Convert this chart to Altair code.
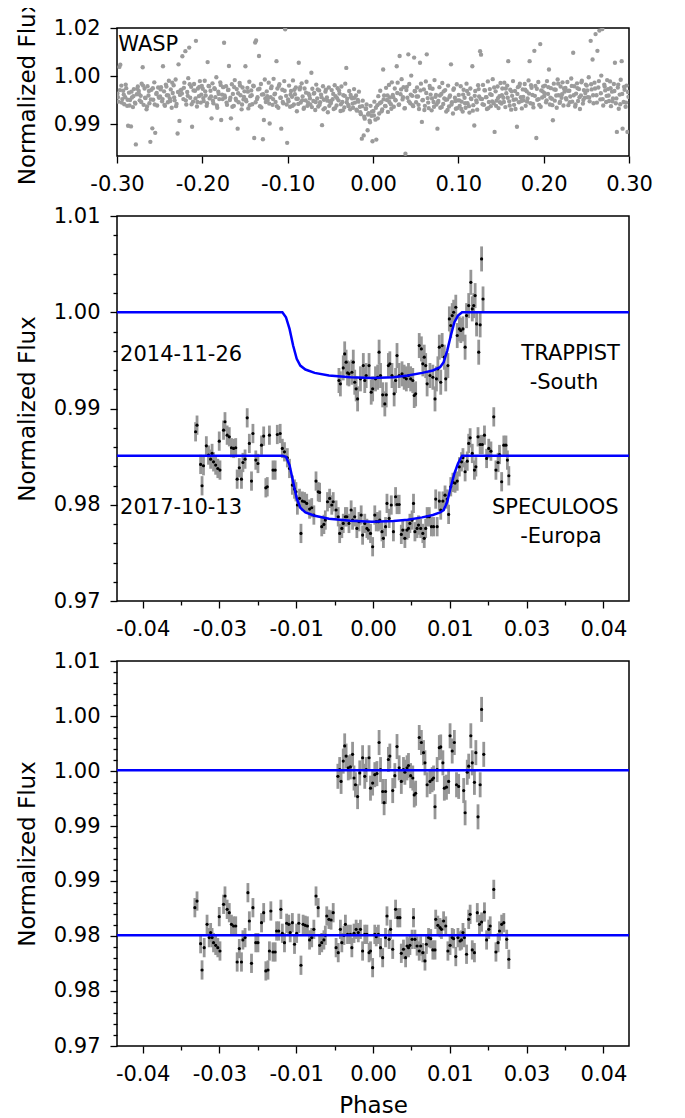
import altair as alt
import pandas as pd

# ---------------- WASP (top panel) ----------------
wasp_phase = [
    -0.2995, -0.2984, -0.2972, -0.2961, -0.2949, -0.2938, -0.2927, -0.2915, -0.2904, -0.2892, -0.2881, -0.2870, -0.2859, -0.2847, -0.2836, -0.2825, -0.2813, -0.2802, -0.2790, -0.2779, -0.2768, -0.2756,
    -0.2745, -0.2734, -0.2722, -0.2711, -0.2699, -0.2688, -0.2677, -0.2665, -0.2654, -0.2642, -0.2631, -0.2620, -0.2609, -0.2597, -0.2586, -0.2575, -0.2563, -0.2552, -0.2540, -0.2529, -0.2518, -0.2506,
    -0.2495, -0.2484, -0.2472, -0.2461, -0.2449, -0.2438, -0.2427, -0.2415, -0.2404, -0.2392, -0.2381, -0.2370, -0.2359, -0.2347, -0.2336, -0.2325, -0.2313, -0.2302, -0.2290, -0.2279, -0.2268, -0.2256,
    -0.2245, -0.2234, -0.2222, -0.2211, -0.2199, -0.2188, -0.2177, -0.2165, -0.2154, -0.2142, -0.2131, -0.2120, -0.2109, -0.2097, -0.2086, -0.2075, -0.2063, -0.2052, -0.2040, -0.2029, -0.2018, -0.2006,
    -0.1995, -0.1984, -0.1972, -0.1961, -0.1949, -0.1938, -0.1927, -0.1915, -0.1904, -0.1892, -0.1881, -0.1870, -0.1859, -0.1847, -0.1836, -0.1825, -0.1813, -0.1802, -0.1790, -0.1779, -0.1768, -0.1756,
    -0.1745, -0.1734, -0.1722, -0.1711, -0.1699, -0.1688, -0.1677, -0.1665, -0.1654, -0.1642, -0.1631, -0.1620, -0.1609, -0.1597, -0.1586, -0.1575, -0.1563, -0.1552, -0.1540, -0.1529, -0.1518, -0.1506,
    -0.1495, -0.1484, -0.1472, -0.1461, -0.1449, -0.1438, -0.1427, -0.1415, -0.1404, -0.1392, -0.1381, -0.1370, -0.1359, -0.1347, -0.1336, -0.1325, -0.1313, -0.1302, -0.1290, -0.1279, -0.1268, -0.1256,
    -0.1245, -0.1234, -0.1222, -0.1211, -0.1199, -0.1188, -0.1177, -0.1165, -0.1154, -0.1142, -0.1131, -0.1120, -0.1109, -0.1097, -0.1086, -0.1075, -0.1063, -0.1052, -0.1040, -0.1029, -0.1018, -0.1006,
    -0.0995, -0.0984, -0.0972, -0.0961, -0.0949, -0.0938, -0.0927, -0.0915, -0.0904, -0.0892, -0.0881, -0.0870, -0.0859, -0.0847, -0.0836, -0.0825, -0.0813, -0.0802, -0.0790, -0.0779, -0.0768, -0.0756,
    -0.0745, -0.0734, -0.0722, -0.0711, -0.0699, -0.0688, -0.0677, -0.0665, -0.0654, -0.0642, -0.0631, -0.0620, -0.0609, -0.0597, -0.0586, -0.0575, -0.0563, -0.0552, -0.0540, -0.0529, -0.0518, -0.0506,
    -0.0495, -0.0484, -0.0472, -0.0461, -0.0449, -0.0438, -0.0427, -0.0415, -0.0404, -0.0392, -0.0381, -0.0370, -0.0359, -0.0347, -0.0336, -0.0325, -0.0313, -0.0302, -0.0290, -0.0279, -0.0268, -0.0256,
    -0.0245, -0.0234, -0.0222, -0.0211, -0.0199, -0.0188, -0.0177, -0.0165, -0.0154, -0.0142, -0.0131, -0.0120, -0.0109, -0.0097, -0.0086, -0.0075, -0.0063, -0.0052, -0.0040, -0.0029, -0.0018, -0.0006,
    0.0005, 0.0016, 0.0028, 0.0039, 0.0051, 0.0062, 0.0073, 0.0085, 0.0096, 0.0108, 0.0119, 0.0130, 0.0141, 0.0153, 0.0164, 0.0175, 0.0187, 0.0198, 0.0210, 0.0221, 0.0232, 0.0244,
    0.0255, 0.0266, 0.0278, 0.0289, 0.0301, 0.0312, 0.0323, 0.0335, 0.0346, 0.0358, 0.0369, 0.0380, 0.0391, 0.0403, 0.0414, 0.0425, 0.0437, 0.0448, 0.0460, 0.0471, 0.0482, 0.0494,
    0.0505, 0.0516, 0.0528, 0.0539, 0.0551, 0.0562, 0.0573, 0.0585, 0.0596, 0.0608, 0.0619, 0.0630, 0.0641, 0.0653, 0.0664, 0.0675, 0.0687, 0.0698, 0.0710, 0.0721, 0.0732, 0.0744,
    0.0755, 0.0766, 0.0778, 0.0789, 0.0801, 0.0812, 0.0823, 0.0835, 0.0846, 0.0858, 0.0869, 0.0880, 0.0891, 0.0903, 0.0914, 0.0925, 0.0937, 0.0948, 0.0960, 0.0971, 0.0982, 0.0994,
    0.1005, 0.1016, 0.1028, 0.1039, 0.1051, 0.1062, 0.1073, 0.1085, 0.1096, 0.1108, 0.1119, 0.1130, 0.1141, 0.1153, 0.1164, 0.1175, 0.1187, 0.1198, 0.1210, 0.1221, 0.1232, 0.1244,
    0.1255, 0.1266, 0.1278, 0.1289, 0.1301, 0.1312, 0.1323, 0.1335, 0.1346, 0.1358, 0.1369, 0.1380, 0.1391, 0.1403, 0.1414, 0.1425, 0.1437, 0.1448, 0.1460, 0.1471, 0.1482, 0.1494,
    0.1505, 0.1516, 0.1528, 0.1539, 0.1551, 0.1562, 0.1573, 0.1585, 0.1596, 0.1608, 0.1619, 0.1630, 0.1641, 0.1653, 0.1664, 0.1675, 0.1687, 0.1698, 0.1710, 0.1721, 0.1732, 0.1744,
    0.1755, 0.1766, 0.1778, 0.1789, 0.1801, 0.1812, 0.1823, 0.1835, 0.1846, 0.1858, 0.1869, 0.1880, 0.1891, 0.1903, 0.1914, 0.1925, 0.1937, 0.1948, 0.1960, 0.1971, 0.1982, 0.1994,
    0.2005, 0.2016, 0.2028, 0.2039, 0.2051, 0.2062, 0.2073, 0.2085, 0.2096, 0.2108, 0.2119, 0.2130, 0.2141, 0.2153, 0.2164, 0.2175, 0.2187, 0.2198, 0.2210, 0.2221, 0.2232, 0.2244,
    0.2255, 0.2266, 0.2278, 0.2289, 0.2301, 0.2312, 0.2323, 0.2335, 0.2346, 0.2358, 0.2369, 0.2380, 0.2391, 0.2403, 0.2414, 0.2425, 0.2437, 0.2448, 0.2460, 0.2471, 0.2482, 0.2494,
    0.2505, 0.2516, 0.2528, 0.2539, 0.2551, 0.2562, 0.2573, 0.2585, 0.2596, 0.2608, 0.2619, 0.2630, 0.2641, 0.2653, 0.2664, 0.2675, 0.2687, 0.2698, 0.2710, 0.2721, 0.2732, 0.2744,
    0.2755, 0.2766, 0.2778, 0.2789, 0.2801, 0.2812, 0.2823, 0.2835, 0.2846, 0.2858, 0.2869, 0.2880, 0.2891, 0.2903, 0.2914, 0.2925, 0.2937, 0.2948, 0.2960, 0.2971, 0.2982, 0.2994,
]
wasp_flux = [
    0.9996, 0.9971, 1.0079, 1.0086, 1.0021, 0.9979, 1.0005, 0.9963, 0.9985, 1.0013, 0.9958, 0.9896, 0.9999, 0.9976, 0.9894, 0.9984, 0.9954, 1.0010, 0.9968, 0.9838, 0.9994, 1.0018,
    1.0004, 0.9975, 0.9989, 1.0027, 1.0078, 0.9961, 1.0012, 0.9982, 0.9947, 1.0019, 0.9990, 0.9966, 0.9846, 1.0008, 0.9888, 0.9977, 1.0031, 0.9874, 0.9995, 0.9959, 1.0015, 0.9983,
    0.9987, 1.0016, 0.9972, 1.0081, 1.0003, 0.9958, 1.0024, 0.9991, 0.9969, 1.0036, 0.9981, 1.0009, 0.9952, 0.9998, 1.0022, 0.9975, 1.0040, 0.9964, 0.9872, 1.0087, 0.9911, 1.0006,
    1.0008, 1.0112, 0.9979, 1.0030, 1.0128, 0.9962, 1.0001, 1.0044, 1.0139, 0.9983, 1.0017, 0.9893, 0.9971, 1.0026, 1.0005, 1.0160, 0.9956, 1.0012, 0.9988, 1.0035, 0.9968, 1.0020,
    1.0011, 0.9973, 1.0036, 0.9990, 0.9958, 1.0094, 1.0020, 0.9981, 1.0005, 0.9919, 1.0028, 0.9966, 1.0013, 0.9985, 1.0047, 0.9952, 1.0002, 0.9979, 1.0031, 0.9914, 0.9993, 1.0016,
    1.0154, 0.9984, 1.0019, 0.9961, 1.0007, 1.0082, 0.9976, 0.9919, 1.0025, 0.9995, 0.9958, 1.0038, 0.9980, 1.0010, 0.9887, 0.9969, 1.0029, 0.9991, 0.9947, 1.0015, 0.9978, 1.0003,
    1.0081, 0.9972, 1.0014, 0.9950, 1.0033, 0.9988, 1.0006, 0.9963, 1.0021, 0.9858, 1.0155, 1.0161, 0.9979, 1.0009, 1.0113, 0.9957, 1.0026, 0.9993, 0.9854, 0.9914, 1.0040, 0.9970,
    1.0003, 0.9976, 1.0030, 0.9903, 0.9985, 1.0018, 0.9961, 1.0042, 0.9994, 0.9970, 1.0097, 1.0012, 0.9952, 1.0025, 0.9983, 0.9887, 1.0008, 0.9966, 1.0035, 1.0196, 0.9989, 0.9843,
    0.9978, 1.0021, 0.9955, 1.0004, 0.9986, 1.0037, 0.9962, 0.9994, 1.0015, 0.9941, 0.9980, 1.0092, 1.0009, 0.9968, 1.0028, 0.9987, 0.9949, 1.0012, 0.9975, 1.0033, 0.9958, 0.9996,
    0.9990, 0.9962, 1.0061, 1.0011, 0.9973, 0.9998, 0.9945, 1.0024, 0.9981, 0.9956, 1.0006, 0.9969, 0.9993, 0.9898, 1.0019, 0.9977, 0.9951, 1.0008, 0.9984, 0.9938, 1.0015, 0.9972,
    0.9966, 1.0007, 0.9979, 0.9948, 1.0022, 0.9988, 0.9959, 1.0013, 0.9975, 0.9996, 0.9942, 1.0018, 0.9970, 0.9991, 0.9953, 1.0027, 1.0076, 0.9980, 0.9961, 1.0004, 0.9947, 0.9985,
    0.9981, 0.9952, 1.0010, 0.9968, 0.9990, 0.9943, 0.9976, 1.0002, 0.9955, 0.9932, 0.9856, 0.9974, 0.9866, 0.9918, 0.9949, 0.9962, 0.9882, 0.9935, 0.9912, 0.9958, 0.9927, 0.9848,
    0.9942, 0.9971, 0.9915, 0.9853, 0.9960, 0.9988, 0.9934, 1.0005, 0.9969, 0.9947, 1.0071, 0.9990, 0.9958, 1.0014, 0.9976, 0.9939, 1.0023, 0.9984, 0.9963, 1.0031, 0.9992, 0.9955,
    1.0012, 0.9975, 1.0081, 1.0030, 0.9961, 1.0113, 0.9994, 1.0041, 0.9978, 1.0016, 0.9950, 0.9809, 1.0007, 0.9983, 1.0118, 1.0026, 0.9966, 1.0052, 0.9989, 0.9957, 1.0108, 1.0003,
    0.9969, 1.0015, 0.9987, 0.9948, 1.0092, 1.0027, 0.9908, 0.9976, 1.0009, 0.9958, 1.0034, 1.0118, 0.9982, 0.9951, 1.0020, 0.9993, 0.9944, 1.0011, 0.9970, 1.0038, 0.9986, 0.9962,
    0.9887, 0.9973, 1.0016, 0.9952, 0.9995, 1.0029, 0.9964, 0.9981, 1.0007, 0.9940, 0.9978, 1.0021, 0.9956, 0.9990, 1.0087, 0.9969, 0.9934, 1.0012, 0.9983, 0.9949, 1.0025, 0.9975,
    0.9992, 0.9958, 1.0019, 0.9971, 0.9940, 1.0008, 0.9983, 0.9952, 1.0027, 0.9966, 0.9995, 0.9937, 1.0012, 0.9979, 1.0081, 0.9960, 0.9897, 1.0004, 0.9975, 0.9946, 1.0022, 0.9987,
    1.0128, 1.0117, 0.9979, 1.0023, 0.9961, 1.0006, 0.9985, 0.9948, 1.0034, 0.9970, 1.0010, 0.9957, 0.9992, 1.0041, 0.9966, 0.9877, 1.0003, 0.9974, 1.0018, 0.9951, 0.9988, 1.0029,
    0.9965, 1.0012, 0.9983, 1.0030, 0.9954, 0.9997, 1.0021, 1.0097, 0.9972, 1.0008, 0.9946, 0.9989, 1.0035, 0.9961, 1.0004, 0.9978, 0.9893, 1.0016, 0.9969, 1.0027, 0.9985, 0.9950,
    1.0009, 0.9975, 1.0026, 0.9958, 1.0003, 0.9981, 1.0037, 1.0097, 0.9966, 1.0014, 0.9992, 0.9953, 1.0129, 1.0020, 0.9858, 0.9977, 1.0032, 0.9961, 1.0150, 1.0006, 0.9984, 1.0018,
    0.9988, 1.0021, 0.9969, 1.0035, 0.9995, 1.0071, 0.9962, 1.0013, 0.9980, 0.9913, 1.0027, 0.9974, 1.0008, 0.9952, 1.0040, 0.9991, 0.9967, 1.0018, 0.9983, 1.0031, 0.9959, 1.0002,
    1.0014, 0.9978, 1.0032, 0.9960, 1.0005, 0.9987, 1.0043, 0.9971, 1.0123, 1.0019, 0.9956, 0.9996, 1.0028, 0.9973, 1.0010, 0.9948, 0.9990, 1.0036, 0.9965, 1.0007, 0.9983, 1.0024,
    1.0021, 0.9985, 1.0047, 0.9972, 1.0160, 1.0009, 1.0102, 0.9966, 1.0030, 1.0181, 0.9991, 1.0129, 1.0015, 1.0192, 0.9978, 1.0052, 1.0197, 0.9959, 1.0024, 1.0006, 0.9970, 1.0038,
    1.0010, 0.9973, 1.0034, 0.9957, 1.0002, 0.9981, 1.0026, 1.0092, 0.9966, 0.9877, 1.0015, 0.9949, 0.9993, 1.0039, 1.0097, 0.9887, 0.9970, 1.0008, 0.9955, 1.0021, 0.9877, 0.9986,
]
# second WASP season (interleaved phases, core of the band)
wasp2_phase = [
    -0.2989, -0.2966, -0.2944, -0.2921, -0.2898, -0.2876, -0.2853, -0.2830, -0.2808, -0.2785, -0.2762,
    -0.2739, -0.2716, -0.2694, -0.2671, -0.2648, -0.2626, -0.2603, -0.2580, -0.2558, -0.2535, -0.2512,
    -0.2489, -0.2466, -0.2444, -0.2421, -0.2398, -0.2376, -0.2353, -0.2330, -0.2308, -0.2285, -0.2262,
    -0.2239, -0.2216, -0.2194, -0.2171, -0.2148, -0.2126, -0.2103, -0.2080, -0.2058, -0.2035, -0.2012,
    -0.1989, -0.1966, -0.1944, -0.1921, -0.1898, -0.1876, -0.1853, -0.1830, -0.1808, -0.1785, -0.1762,
    -0.1739, -0.1716, -0.1694, -0.1671, -0.1648, -0.1626, -0.1603, -0.1580, -0.1558, -0.1535, -0.1512,
    -0.1489, -0.1466, -0.1444, -0.1421, -0.1398, -0.1376, -0.1353, -0.1330, -0.1308, -0.1285, -0.1262,
    -0.1239, -0.1216, -0.1194, -0.1171, -0.1148, -0.1126, -0.1103, -0.1080, -0.1058, -0.1035, -0.1012,
    -0.0989, -0.0966, -0.0944, -0.0921, -0.0898, -0.0876, -0.0853, -0.0830, -0.0808, -0.0785, -0.0762,
    -0.0739, -0.0716, -0.0694, -0.0671, -0.0648, -0.0626, -0.0603, -0.0580, -0.0558, -0.0535, -0.0512,
    -0.0489, -0.0466, -0.0444, -0.0421, -0.0398, -0.0376, -0.0353, -0.0330, -0.0308, -0.0285, -0.0262,
    -0.0239, -0.0216, -0.0194, -0.0171, -0.0148, -0.0126, -0.0103, -0.0080, -0.0058, -0.0035, -0.0012,
    0.0011, 0.0034, 0.0056, 0.0079, 0.0102, 0.0124, 0.0147, 0.0170, 0.0192, 0.0215, 0.0238,
    0.0261, 0.0284, 0.0306, 0.0329, 0.0352, 0.0374, 0.0397, 0.0420, 0.0442, 0.0465, 0.0488,
    0.0511, 0.0534, 0.0556, 0.0579, 0.0602, 0.0624, 0.0647, 0.0670, 0.0692, 0.0715, 0.0738,
    0.0761, 0.0784, 0.0806, 0.0829, 0.0852, 0.0874, 0.0897, 0.0920, 0.0942, 0.0965, 0.0988,
    0.1011, 0.1034, 0.1056, 0.1079, 0.1102, 0.1124, 0.1147, 0.1170, 0.1192, 0.1215, 0.1238,
    0.1261, 0.1284, 0.1306, 0.1329, 0.1352, 0.1374, 0.1397, 0.1420, 0.1442, 0.1465, 0.1488,
    0.1511, 0.1534, 0.1556, 0.1579, 0.1602, 0.1624, 0.1647, 0.1670, 0.1692, 0.1715, 0.1738,
    0.1761, 0.1784, 0.1806, 0.1829, 0.1852, 0.1874, 0.1897, 0.1920, 0.1942, 0.1965, 0.1988,
    0.2011, 0.2034, 0.2056, 0.2079, 0.2102, 0.2124, 0.2147, 0.2170, 0.2192, 0.2215, 0.2238,
    0.2261, 0.2284, 0.2306, 0.2329, 0.2352, 0.2374, 0.2397, 0.2420, 0.2442, 0.2465, 0.2488,
    0.2511, 0.2534, 0.2556, 0.2579, 0.2602, 0.2624, 0.2647, 0.2670, 0.2692, 0.2715, 0.2738,
    0.2761, 0.2784, 0.2806, 0.2829, 0.2852, 0.2874, 0.2897, 0.2920, 0.2942, 0.2965, 0.2988,
]
wasp2_flux = [
    0.9985, 1.0007, 0.9968, 0.9993, 1.0024, 0.9977, 0.9959, 1.0002, 0.9988, 0.9965, 1.0011,
    0.9994, 0.9970, 1.0021, 0.9983, 0.9956, 1.0004, 0.9978, 1.0013, 0.9962, 0.9998, 0.9986,
    1.0009, 0.9979, 0.9961, 1.0018, 0.9990, 0.9973, 1.0030, 0.9984, 0.9957, 1.0001, 0.9992,
    0.9996, 1.0014, 0.9975, 0.9989, 1.0025, 0.9963, 1.0006, 0.9981, 0.9970, 1.0017, 0.9993,
    0.9982, 1.0003, 0.9966, 1.0019, 0.9987, 0.9974, 1.0010, 0.9959, 0.9995, 1.0023, 0.9979,
    0.9990, 0.9968, 1.0008, 0.9983, 0.9955, 1.0016, 0.9975, 0.9997, 1.0021, 0.9962, 0.9986,
    0.9977, 1.0002, 0.9960, 0.9991, 1.0019, 0.9969, 0.9985, 1.0011, 0.9953, 0.9994, 0.9981,
    0.9988, 0.9965, 1.0013, 0.9979, 0.9996, 0.9957, 1.0020, 0.9983, 0.9970, 1.0005, 0.9962,
    0.9972, 0.9993, 0.9958, 1.0008, 0.9980, 0.9964, 1.0016, 0.9975, 0.9952, 0.9999, 0.9968,
    0.9981, 0.9954, 0.9996, 0.9970, 1.0009, 0.9961, 0.9985, 0.9947, 1.0002, 0.9974, 0.9958,
    0.9973, 0.9995, 0.9951, 0.9982, 1.0006, 0.9963, 0.9944, 0.9989, 0.9969, 0.9957, 0.9992,
    0.9965, 0.9983, 0.9946, 0.9971, 0.9938, 0.9957, 0.9924, 0.9949, 0.9931, 0.9907, 0.9940,
    0.9928, 0.9952, 0.9919, 0.9966, 0.9941, 0.9978, 0.9957, 0.9990, 0.9970, 0.9949, 0.9985,
    0.9976, 0.9998, 0.9962, 1.0009, 0.9985, 0.9951, 1.0017, 0.9972, 0.9993, 0.9960, 1.0004,
    0.9987, 0.9961, 1.0006, 0.9975, 0.9945, 0.9998, 0.9968, 1.0013, 0.9981, 0.9955, 0.9992,
    0.9969, 0.9990, 0.9954, 1.0003, 0.9977, 0.9945, 0.9986, 0.9962, 1.0008, 0.9973, 0.9951,
    0.9975, 0.9948, 0.9993, 0.9966, 1.0004, 0.9957, 0.9981, 0.9943, 0.9989, 0.9969, 1.0010,
    0.9980, 0.9963, 1.0007, 0.9985, 0.9951, 0.9994, 0.9972, 1.0015, 0.9958, 0.9982, 0.9969,
    0.9991, 0.9970, 1.0012, 0.9983, 0.9959, 1.0003, 0.9977, 0.9948, 0.9995, 1.0020, 0.9973,
    0.9986, 1.0008, 0.9971, 0.9996, 1.0022, 0.9964, 0.9989, 1.0011, 0.9979, 0.9955, 1.0003,
    0.9997, 0.9975, 1.0016, 0.9983, 0.9960, 1.0009, 0.9990, 1.0027, 0.9971, 0.9994, 1.0012,
    0.9982, 1.0005, 0.9969, 1.0020, 0.9991, 0.9962, 1.0013, 0.9985, 1.0031, 0.9976, 0.9998,
    1.0006, 0.9984, 1.0025, 0.9991, 1.0012, 0.9968, 1.0035, 0.9997, 0.9979, 1.0018, 0.9989,
    0.9990, 1.0013, 0.9972, 1.0004, 0.9981, 1.0024, 0.9963, 0.9995, 1.0017, 0.9968, 1.0001,
]

# ---------------- TRAPPIST-South 2014-11-26 ----------------
trappist_phase = [
    -0.00665, -0.00637, -0.00581, -0.00553, -0.00525, -0.00497, -0.00469, -0.00413, -0.00385, -0.00357,
    -0.00329, -0.00301, -0.00245, -0.00189, -0.00161, -0.00133, -0.00077, -0.00035, -0.00007, 0.00049,
    0.00091, 0.00119, 0.00147, 0.00189, 0.00231, 0.00259, 0.00301, 0.00329, 0.00371, 0.00413,
    0.00441, 0.00469, 0.00511, 0.00567, 0.00609, 0.00651, 0.00693, 0.00735, 0.00777, 0.00805,
    0.00833, 0.00903, 0.00945, 0.00973, 0.01001, 0.01029, 0.01057, 0.01113, 0.01169, 0.01211,
    0.01239, 0.01267, 0.01295, 0.01323, 0.01351, 0.01393, 0.01421, 0.01463, 0.01491, 0.01519,
    0.01547, 0.01575, 0.01617, 0.01645, 0.01687, 0.01715, 0.01757, 0.01799, 0.01827, 0.01869,
    0.01911, 0.01939, 0.01967, 0.01995, 0.02023, 0.02065, 0.02093, 0.02121, 0.02149,
]
trappist_flux = [
    0.99291, 0.99256, 0.99422, 0.99567, 0.99481, 0.9937, 0.9936, 0.99377, 0.99481, 0.99273,
    0.99204, 0.991, 0.99308, 0.99446, 0.99291, 0.99343, 0.99446, 0.9917, 0.99204, 0.99308,
    0.99325, 0.99585, 0.99343, 0.99142, 0.99048, 0.99142, 0.99446, 0.99464, 0.99343, 0.99152,
    0.99291, 0.9955, 0.99343, 0.9936, 0.99325, 0.99308, 0.99343, 0.99308, 0.99291, 0.99135,
    0.99152, 0.99654, 0.99619, 0.99464, 0.99533, 0.99446, 0.99256, 0.99343, 0.99325, 0.991,
    0.99308, 0.99412, 0.99637, 0.99273, 0.99654, 0.99533, 0.99308, 0.99446, 0.99931, 0.99862,
    0.99965, 1.0, 1.00052, 0.99758, 0.99827, 0.9981, 0.99827, 0.99637, 0.99965, 1.00069,
    1.00311, 1.00035, 1.00069, 1.00173, 0.99879, 0.99585, 0.99869, 1.00554, 1.00138,
]
trappist_err = 0.0013
trappist_res_phase = [
    -0.00686, -0.00651, -0.00623, -0.00581, -0.00553, -0.00525, -0.00483, -0.00441, -0.00399, -0.00371,
    -0.00343, -0.00301, -0.00259, -0.00203, -0.00161, -0.00133, -0.00077, -0.00049, -0.00007, 0.00035,
    0.00077, 0.00119, 0.00147, 0.00189, 0.00217, 0.00245, 0.00301, 0.00329, 0.00385, 0.00427,
    0.00469, 0.00511, 0.00553, 0.00595, 0.00623, 0.00665, 0.00693, 0.00735, 0.00777, 0.00805,
    0.00833, 0.00903, 0.00945, 0.00987, 0.01015, 0.01057, 0.01113, 0.01155, 0.01183, 0.01211,
    0.01253, 0.01295, 0.01323, 0.01365, 0.01393, 0.01435, 0.01477, 0.01505, 0.01547, 0.01589,
    0.01631, 0.01673, 0.01771, 0.01799, 0.01841, 0.01869, 0.01911, 0.01939, 0.01981, 0.02009,
    0.02051, 0.02093, 0.02121, 0.02163,
]
trappist_res_flux = [
    0.99802, 0.99872, 0.99749, 0.9996, 1.00118, 1.00012, 0.9989, 0.999, 1.0003, 0.99784,
    0.99714, 0.99591, 0.99837, 0.99995, 0.99802, 0.99872, 0.99995, 0.99679, 0.99732, 0.99819,
    0.9983, 1.00153, 0.99872, 0.99644, 0.99528, 0.99644, 0.99977, 1.00012, 0.99654, 0.99809,
    1.00111, 0.9989, 0.99749, 0.99872, 0.99844, 0.9989, 0.99914, 0.99809, 0.99784, 0.99609,
    0.99626, 1.00205, 1.00153, 1.00048, 0.99942, 0.99714, 0.99749, 0.99767, 0.99784, 0.99486,
    0.99872, 1.001, 1.00107, 0.99942, 0.99679, 0.99689, 0.99749, 1.00223, 1.00065, 1.00153,
    0.99714, 0.99697, 0.99654, 0.99423, 0.99844, 0.99907, 1.00223, 0.99942, 0.99739, 1.00048,
    0.99381, 0.99714, 1.00497, 1.0003,
]

# ---------------- SPECULOOS-Europa 2017-10-13 ----------------
speculoos_phase = [
    -0.03465, -0.03437, -0.03367, -0.03339, -0.03311, -0.03255, -0.03213, -0.03171, -0.03143, -0.03115,
    -0.03073, -0.03031, -0.03003, -0.02989, -0.02919, -0.02891, -0.02849, -0.02807, -0.02765, -0.02723,
    -0.02681, -0.02653, -0.02611, -0.02569, -0.02541, -0.02499, -0.02457, -0.02415, -0.02373, -0.02345,
    -0.02289, -0.02247, -0.02177, -0.02135, -0.02093, -0.02065, -0.02023, -0.01953, -0.01911, -0.01869,
    -0.01813, -0.01771, -0.01729, -0.01673, -0.01631, -0.01575, -0.01533, -0.01505, -0.01477, -0.01435,
    -0.01407, -0.01379, -0.01337, -0.01295, -0.01239, -0.01197, -0.01155, -0.01113, -0.01071, -0.01043,
    -0.01001, -0.00959, -0.00931, -0.00889, -0.00847, -0.00805, -0.00777, -0.00721, -0.00679, -0.00651,
    -0.00609, -0.00581, -0.00539, -0.00511, -0.00469, -0.00427, -0.00399, -0.00357, -0.00315, -0.00273,
    -0.00231, -0.00203, -0.00161, -0.00119, -0.00091, -0.00049, -0.00007, 0.00035, 0.00063, 0.00105,
    0.00133, 0.00175, 0.00203, 0.00245, 0.00273, 0.00315, 0.00357, 0.00399, 0.00441, 0.00469,
    0.00511, 0.00553, 0.00581, 0.00623, 0.00665, 0.00693, 0.00721, 0.00763, 0.00791, 0.00819,
    0.00861, 0.00889, 0.00931, 0.00973, 0.01001, 0.01029, 0.01057, 0.01099, 0.01141, 0.01183,
    0.01225, 0.01253, 0.01295, 0.01323, 0.01365, 0.01407, 0.01449, 0.01477, 0.01519, 0.01561,
    0.01603, 0.01645, 0.01687, 0.01729, 0.01757, 0.01799, 0.01841, 0.01869, 0.01897, 0.01939,
    0.01981, 0.02009, 0.02051, 0.02093, 0.02135, 0.02177, 0.02219, 0.02261, 0.02303, 0.02359,
    0.02401, 0.02443, 0.02471, 0.02513, 0.02555, 0.02597, 0.02625, 0.02653,
]
speculoos_flux = [
    0.98758, 0.98827, 0.98419, 0.98197, 0.98405, 0.98612, 0.98516, 0.98474, 0.98533, 0.98446,
    0.98412, 0.98377, 0.98661, 0.9836, 0.98775, 0.98862, 0.98723, 0.98706, 0.98592, 0.98585,
    0.98592, 0.98266, 0.98384, 0.98266, 0.98439, 0.98474, 0.98903, 0.98637, 0.98246, 0.9874,
    0.98464, 0.98429, 0.98619, 0.98713, 0.98176, 0.98187, 0.98723, 0.9836, 0.9836, 0.9873,
    0.9874, 0.98585, 0.9855, 0.98488, 0.98377, 0.98204, 0.98163, 0.98135, 0.97997, 0.98066,
    0.97702, 0.98038, 0.98031, 0.98014, 0.97955, 0.97969, 0.97893, 0.98246, 0.98135, 0.98128,
    0.97772, 0.97796, 0.97841, 0.98031, 0.98066, 0.97997, 0.98031, 0.97945, 0.97875, 0.97702,
    0.97754, 0.97806, 0.97875, 0.97875, 0.97806, 0.97945, 0.97841, 0.97875, 0.97754, 0.97824,
    0.97893, 0.97685, 0.97806, 0.97754, 0.97737, 0.97702, 0.97564, 0.97893, 0.97824, 0.97824,
    0.97841, 0.9772, 0.97651, 0.97772, 0.98014, 0.97858, 0.97997, 0.9772, 0.98083, 0.98003,
    0.98003, 0.97692, 0.97737, 0.97651, 0.97737, 0.97754, 0.97806, 0.97841, 0.98014, 0.9772,
    0.97754, 0.97789, 0.97754, 0.97702, 0.97651, 0.97754, 0.97875, 0.97875, 0.97772, 0.97772,
    0.98059, 0.97772, 0.98038, 0.97945, 0.98038, 0.981, 0.98059, 0.979, 0.98187, 0.98232,
    0.98225, 0.98246, 0.98394, 0.98446, 0.98488, 0.98343, 0.98453, 0.98637, 0.98695, 0.98533,
    0.9836, 0.98394, 0.98706, 0.98626, 0.98626, 0.98723, 0.98481, 0.98585, 0.98557, 0.98913,
    0.9836, 0.98439, 0.98522, 0.98239, 0.98619, 0.98619, 0.98464, 0.98301,
]
speculoos_err = 0.001
speculoos_res_phase = [
    -0.03479, -0.03437, -0.03367, -0.03339, -0.03297, -0.03241, -0.03199, -0.03171, -0.03143, -0.03115,
    -0.03073, -0.03031, -0.02989, -0.03003, -0.02919, -0.02891, -0.02849, -0.02807, -0.02765, -0.02723,
    -0.02681, -0.02653, -0.02611, -0.02569, -0.02541, -0.02499, -0.02443, -0.02415, -0.02373, -0.02345,
    -0.02289, -0.02247, -0.02177, -0.02135, -0.02093, -0.02051, -0.02023, -0.01995, -0.01953, -0.01911,
    -0.01883, -0.01841, -0.01799, -0.01771, -0.01729, -0.01687, -0.01645, -0.01617, -0.01575, -0.01533,
    -0.01491, -0.01449, -0.01407, -0.01365, -0.01323, -0.01281, -0.01239, -0.01197, -0.01155, -0.01113,
    -0.01071, -0.01043, -0.01001, -0.00959, -0.00931, -0.00903, -0.00861, -0.00819, -0.00777, -0.00721,
    -0.00679, -0.00637, -0.00609, -0.00567, -0.00539, -0.00497, -0.00441, -0.00413, -0.00371, -0.00329,
    -0.00287, -0.00245, -0.00203, -0.00161, -0.00119, -0.00077, -0.00049, -0.00007, 0.00035, 0.00063,
    0.00105, 0.00147, 0.00189, 0.00245, 0.00273, 0.00315, 0.00343, 0.00385, 0.00441, 0.00483,
    0.00525, 0.00553, 0.00595, 0.00637, 0.00665, 0.00693, 0.00721, 0.00763, 0.00791, 0.00819,
    0.00861, 0.00903, 0.00931, 0.00973, 0.01015, 0.01043, 0.01085, 0.01127, 0.01169, 0.01211,
    0.01225, 0.01267, 0.01309, 0.01337, 0.01379, 0.01421, 0.01463, 0.01505, 0.01547, 0.01575,
    0.01617, 0.01659, 0.01701, 0.01729, 0.01757, 0.01785, 0.01827, 0.01869, 0.01897, 0.01939,
    0.01981, 0.02037, 0.02079, 0.02121, 0.02177, 0.02219, 0.02261, 0.02289, 0.02359, 0.02401,
    0.02443, 0.02471, 0.02513, 0.02555, 0.02611, 0.02653,
]
speculoos_res_flux = [
    0.98437, 0.98506, 0.98063, 0.9779, 0.98022, 0.98264, 0.98126, 0.98178, 0.98126, 0.98074,
    0.98046, 0.98022, 0.97987, 0.98344, 0.98472, 0.98558, 0.9842, 0.98385, 0.98264, 0.98247,
    0.98247, 0.97873, 0.98012, 0.97873, 0.98102, 0.98126, 0.98593, 0.98299, 0.97859, 0.98437,
    0.98074, 0.98074, 0.98281, 0.98385, 0.9778, 0.9779, 0.97987, 0.98403, 0.97977, 0.97977,
    0.98195, 0.98195, 0.9842, 0.98171, 0.98074, 0.98275, 0.98264, 0.98178, 0.98281, 0.98057,
    0.98171, 0.98275, 0.97839, 0.98264, 0.98254, 0.98247, 0.98102, 0.98126, 0.98212, 0.98558,
    0.98437, 0.98046, 0.98074, 0.98102, 0.9815, 0.98351, 0.98316, 0.98309, 0.98385, 0.98022,
    0.9797, 0.98212, 0.98074, 0.9815, 0.98264, 0.9816, 0.9816, 0.98022, 0.98171, 0.98212,
    0.98178, 0.98212, 0.97987, 0.9816, 0.9816, 0.9797, 0.97987, 0.97814, 0.9816, 0.98136,
    0.9816, 0.98022, 0.97918, 0.98126, 0.98351, 0.98108, 0.98212, 0.98005, 0.9842, 0.98333,
    0.98333, 0.97963, 0.98005, 0.97918, 0.98039, 0.98022, 0.98046, 0.98108, 0.98333, 0.98108,
    0.98039, 0.97987, 0.98039, 0.9797, 0.97884, 0.98057, 0.98126, 0.98115, 0.97998, 0.97998,
    0.98316, 0.98254, 0.9823, 0.98212, 0.98299, 0.98247, 0.97987, 0.98046, 0.98126, 0.98115,
    0.97929, 0.98126, 0.98091, 0.98102, 0.98178, 0.98126, 0.97953, 0.98316, 0.98368, 0.97998,
    0.9797, 0.98385, 0.98264, 0.98288, 0.98392, 0.98102, 0.98212, 0.98247, 0.98627, 0.97977,
    0.98074, 0.98195, 0.98264, 0.98281, 0.98108, 0.97901,
]

# ---------------- transit models ----------------
model_phase = [-0.05, -0.0177, -0.0170, -0.0163, -0.0156, -0.0149, -0.0142, -0.0132, -0.0114, -0.0086,
               -0.0044, -0.0002, 0.0040, 0.0068, 0.0096, 0.0117, 0.0131, 0.0138, 0.0145, 0.0152,
               0.0159, 0.0166, 0.0174, 0.05]
model_trappist = [1.0, 1.0, 0.99948, 0.99827, 0.99654, 0.99516, 0.99446, 0.99405, 0.9937, 0.99343,
                  0.99325, 0.99318, 0.99325, 0.99343, 0.9937, 0.99395, 0.99429, 0.99481, 0.99602, 0.99758,
                  0.99896, 0.99965, 1.0, 1.0]
model_speculoos = [0.98509, 0.98509, 0.98498, 0.98412, 0.98239, 0.98066, 0.97969, 0.9792, 0.97886, 0.97855,
                   0.97834, 0.97824, 0.9783, 0.97844, 0.97869, 0.97893, 0.9792, 0.97945, 0.98031, 0.98187,
                   0.98325, 0.98429, 0.98509, 0.98509]
residual_levels = [0.99865, 0.9815]

# ---------------- annotations ----------------
wasp_note = {"phase": [-0.2985], "flux": [1.0127], "label": ["WASP"]}
date_notes = {"phase": [-0.0494, -0.0494], "flux": [0.99494, 0.97901], "label": ["2014-11-26", "2017-10-13"]}
site_notes = {"phase": [0.0386, 0.0373, 0.0356, 0.0367],
              "flux": [0.99501, 0.9920, 0.97901, 0.97606],
              "label": ["TRAPPIST", "-South", "SPECULOOS", "-Europa"]}

# ---------------- styling helpers ----------------
FONT = "DejaVu Sans"
MINUS = "\u2212"
W = 512


def label_expr(test=None):
    base = "replace(format(datum.value, '.2f'), '%s', '-')" % MINUS
    if test:
        return "(%s) ? %s : ''" % (test, base)
    return base


def make_axis(**kw):
    props = dict(labelFont=FONT, labelFontSize=21, labelColor="black",
                 titleFont=FONT, titleFontSize=23, titleFontWeight="normal", titleColor="black",
                 tickColor="black", tickWidth=1.3, tickSize=7, domain=False, grid=False,
                 labelOverlap=False, labelFlush=False, labelPadding=10)
    props.update(kw)
    return alt.Axis(**props)


def sc(a, b):
    return alt.Scale(domain=[a, b], nice=False, zero=False)


X_TEST = "abs(datum.value / 0.015 - round(datum.value / 0.015)) < 0.001"
YM_TEST = "abs(datum.value * 100 - round(datum.value * 100)) < 0.001"
YB_TEST = "abs((1.01 - datum.value) * 175 - round((1.01 - datum.value) * 175)) < 0.01"

x_ticks = [-0.045, -0.0375, -0.03, -0.0225, -0.015, -0.0075, 0.0, 0.0075, 0.015, 0.0225, 0.03, 0.0375, 0.045]
ym_ticks = [round(0.97 + 0.002 * k, 4) for k in range(21)]
yb_ticks = [round(1.01 - k * 0.04 / 35, 7) for k in range(36)]

ytitle = dict(title="Normalized Flux", titleX=-83, titleAngle=270, titleBaseline="alphabetic", titleAlign="center")

# ---------------- top panel ----------------
ax_top_x = make_axis(values=[-0.3, -0.2, -0.1, 0.0, 0.1, 0.2, 0.3], labelExpr=label_expr(), title=None)
ax_top_y = make_axis(values=[0.99, 1.005, 1.02], labelExpr=label_expr(), **ytitle)
tx = alt.X("phase:Q", scale=sc(-0.3, 0.3), axis=ax_top_x)
ty = alt.Y("flux:Q", scale=sc(0.9802, 1.02), axis=ax_top_y)

wasp_df = pd.concat([pd.DataFrame({"phase": wasp_phase, "flux": wasp_flux}),
                     pd.DataFrame({"phase": wasp2_phase, "flux": wasp2_flux})], ignore_index=True)
top = alt.layer(
    alt.Chart(wasp_df).mark_circle(size=19, color="#9b9b9b", opacity=1, clip=True).encode(x=tx, y=ty),
    alt.Chart(pd.DataFrame(wasp_note)).mark_text(align="left", baseline="alphabetic", font=FONT,
                                                 fontSize=21, color="black").encode(x=tx, y=ty, text="label:N"),
).properties(width=W, height=128)

# ---------------- middle panel ----------------
tick_x = {"condition": {"test": X_TEST, "value": 7}, "value": 4}
ax_mid_x = make_axis(values=x_ticks, labelExpr=label_expr(X_TEST), tickSize=tick_x, title=None)
ax_mid_y = make_axis(values=ym_ticks, labelExpr=label_expr(YM_TEST),
                     tickSize={"condition": {"test": YM_TEST, "value": 7}, "value": 4}, **ytitle)
mx = alt.X("phase:Q", scale=sc(-0.05, 0.05), axis=ax_mid_x)
mscale = sc(0.97, 1.01)


def data_layers(phase, flux, err, xenc, yscale, yaxis):
    df = pd.DataFrame({"phase": phase, "flux": flux})
    bars = alt.Chart(df).transform_calculate(
        lo="datum.flux - %g" % err, hi="datum.flux + %g" % err
    ).mark_rule(color="#969696", strokeWidth=2.8).encode(
        x=xenc, y=alt.Y("lo:Q", scale=yscale, axis=yaxis), y2="hi:Q")
    pts = alt.Chart(df).mark_circle(size=10, color="black", opacity=1).encode(
        x=xenc, y=alt.Y("flux:Q", scale=yscale, axis=yaxis))
    return [bars, pts]


model_df = pd.DataFrame({"phase": model_phase, "t": model_trappist, "s": model_speculoos})
my_t = alt.Y("t:Q", scale=mscale, axis=ax_mid_y)
my_s = alt.Y("s:Q", scale=mscale, axis=ax_mid_y)
my = alt.Y("flux:Q", scale=mscale, axis=ax_mid_y)

mid_layers = (data_layers(trappist_phase, trappist_flux, trappist_err, mx, mscale, ax_mid_y)
              + data_layers(speculoos_phase, speculoos_flux, speculoos_err, mx, mscale, ax_mid_y)
              + [alt.Chart(model_df).mark_line(color="#0000ff", strokeWidth=2.5).encode(x=mx, y=my_t),
                 alt.Chart(model_df).mark_line(color="#0000ff", strokeWidth=2.5).encode(x=mx, y=my_s),
                 alt.Chart(pd.DataFrame(date_notes)).mark_text(align="left", baseline="alphabetic", font=FONT,
                                                               fontSize=21, color="black").encode(x=mx, y=my, text="label:N"),
                 alt.Chart(pd.DataFrame(site_notes)).mark_text(align="center", baseline="alphabetic", font=FONT,
                                                               fontSize=21, color="black").encode(x=mx, y=my, text="label:N")])
mid = alt.layer(*mid_layers).properties(width=W, height=385)

# ---------------- bottom panel ----------------
ax_bot_x = make_axis(values=x_ticks, labelExpr=label_expr(X_TEST), tickSize=tick_x,
                     title="Phase", titleY=66, titleBaseline="alphabetic")
ax_bot_y = make_axis(values=yb_ticks, labelExpr=label_expr(YB_TEST),
                     tickSize={"condition": {"test": YB_TEST, "value": 7}, "value": 4}, **ytitle)
bx = alt.X("phase:Q", scale=sc(-0.05, 0.05), axis=ax_bot_x)
bscale = sc(0.97, 1.01)

bot_layers = (data_layers(trappist_res_phase, trappist_res_flux, trappist_err, bx, bscale, ax_bot_y)
              + data_layers(speculoos_res_phase, speculoos_res_flux, speculoos_err, bx, bscale, ax_bot_y)
              + [alt.Chart(pd.DataFrame({"level": residual_levels})).mark_rule(color="#0000ff", strokeWidth=2.5).encode(
                  y=alt.Y("level:Q", scale=bscale, axis=ax_bot_y))])
bot = alt.layer(*bot_layers).properties(width=W, height=385)

chart = alt.vconcat(top, mid, bot, spacing=60, bounds="flush").properties(
    padding={"left": 7, "top": -10, "right": 5, "bottom": 2}
).configure(
    font=FONT,
    view=alt.ViewConfig(stroke="black", strokeWidth=1.5),
)

chart.save("out.html", embed_options={"renderer": "svg", "actions": False})
